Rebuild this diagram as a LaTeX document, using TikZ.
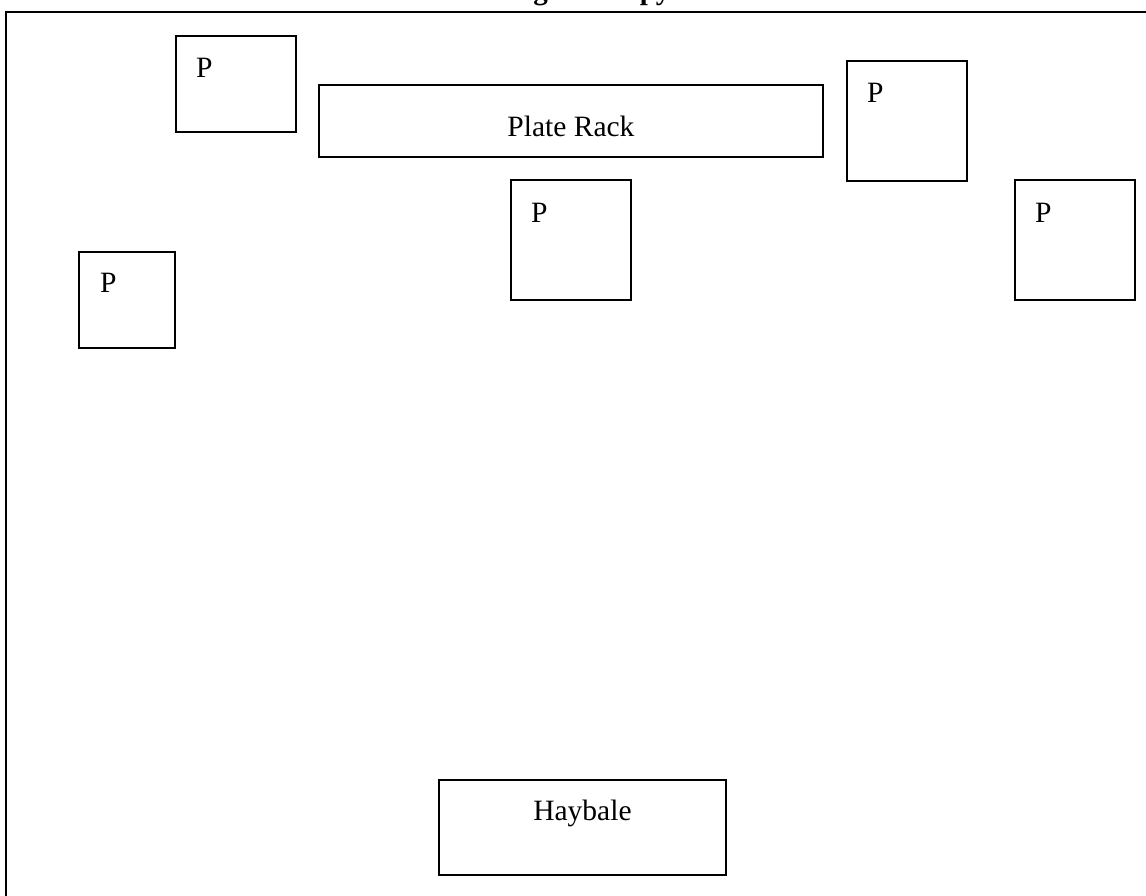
\documentclass[tikz,border=0pt]{standalone}
\usepackage{fontspec}
\setmainfont{Liberation Serif}
\usetikzlibrary{calc}
\begin{document}
\begin{tikzpicture}[x=1pt,y=-1pt,
  box/.style={draw=black,line width=1.9pt,rectangle,inner sep=0pt,anchor=north west},
  lbl/.style={inner sep=0pt,anchor=base west,font=\fontsize{29.5}{34}\selectfont},
  clbl/.style={inner sep=0pt,anchor=base,font=\fontsize{29.5}{34}\selectfont},
  frame/.style={draw=black,line width=2pt}]
\useasboundingbox (0,0) rectangle (1146,895);
\clip (0,0) rectangle (1146,895);
% cut-off title
\node[inner sep=0pt,anchor=base west,font=\bfseries\fontsize{29}{34}\selectfont] (title) at (493,-1) {Stage 10 Copy};
% outer frame (cut off on the right and bottom)
\coordinate (fr) at (1160,12);
\coordinate (fc) at (6,12);
\coordinate (fb) at (6,910);
\draw[frame] (fr) -- (fc) -- (fb);
% boxes
\node[box,minimum width=120pt,minimum height=96pt] (p1) at (175,35) {};
\node[box,minimum width=504pt,minimum height=72pt] (rack) at (318,84) {};
\node[box,minimum width=120pt,minimum height=120pt] (p2) at (846,60) {};
\node[box,minimum width=120pt,minimum height=120pt] (p3) at (510,179) {};
\node[box,minimum width=120pt,minimum height=120pt] (p4) at (1014,179) {};
\node[box,minimum width=96pt,minimum height=96pt] (p5) at (78,251) {};
\node[box,minimum width=287pt,minimum height=95pt] (hay) at (438,779) {};
% labels
\node[lbl] (t1) at ($(p1.north west)+(21,42)$) {P};
\node[lbl] (t2) at ($(p2.north west)+(21,42)$) {P};
\node[lbl] (t3) at ($(p3.north west)+(21,43)$) {P};
\node[lbl] (t4) at ($(p4.north west)+(21,43)$) {P};
\node[lbl] (t5) at ($(p5.north west)+(22,41)$) {P};
\node[clbl] (trk) at ($(rack.north)+(0,52)$) {Plate Rack};
\node[clbl] (thy) at ($(hay.north)+(0,41)$) {Haybale};
\end{tikzpicture}
\end{document}
